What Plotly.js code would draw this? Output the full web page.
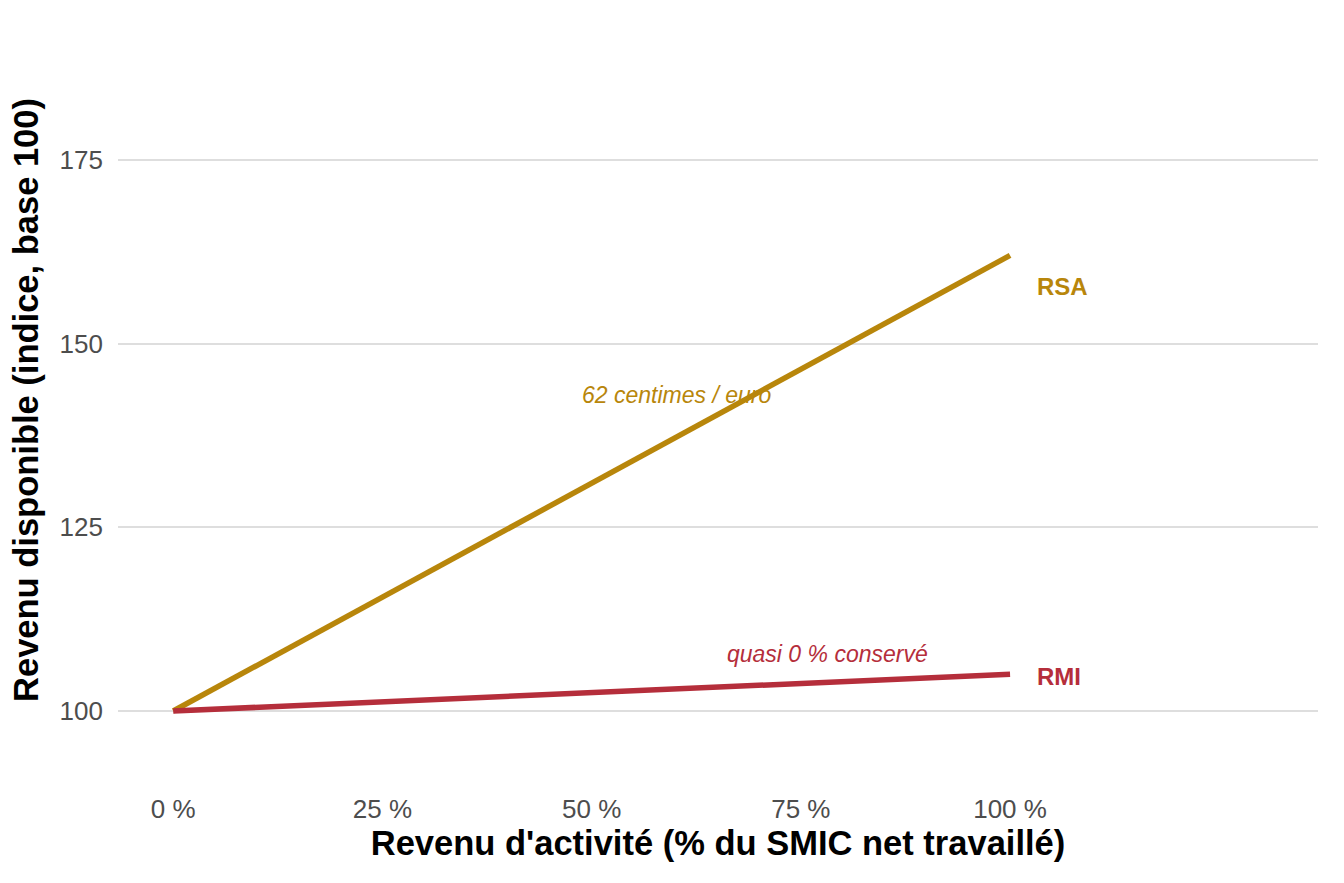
<!DOCTYPE html>
<html>
<head>
<meta charset="utf-8">
<script src="https://cdn.plot.ly/plotly-3.0.1.min.js"></script>
<style>
  html, body { margin: 0; padding: 0; background: #fff; }
  #chart { width: 1344px; height: 883px; }
</style>
</head>
<body>
<div id="chart"></div>
<script>
// revenu d'activité en % du SMIC
const activite = [0, 100];
// revenu disponible, indice base 100
const rsa = [100, 162];
const rmi = [100, 105];

const ticksX = [0, 25, 50, 75, 100];
const labelsX = ['0 %', '25 %', '50 %', '75 %', '100 %'];
const ticksY = [100, 125, 150, 175];

const couleurRSA = '#b8860b';
const couleurRMI = '#b52e3b';

const traces = [
    { x: activite, y: rsa, mode: 'lines', name: 'RSA', line: { color: couleurRSA, width: 5.5 }, hoverinfo: 'skip' },
    { x: activite, y: rmi, mode: 'lines', name: 'RMI', line: { color: couleurRMI, width: 5.5 }, hoverinfo: 'skip' }
];

const police = 'Liberation Sans, Arial, sans-serif';

const layout = {
    width: 1344, height: 883,
    margin: { t: 15, b: 98, l: 118, r: 26 },
    paper_bgcolor: '#fff', plot_bgcolor: '#fff',
    showlegend: false,
    font: { family: police },
    xaxis: {
        range: [-6.6, 136.8],
        tickmode: 'array', tickvals: ticksX, ticktext: labelsX,
        showgrid: false, zeroline: false, showline: false,
        tickfont: { size: 26, color: '#4d4d4d' },
        ticks: '', ticklen: 0, ticklabelstandoff: 6,
        automargin: false,
        title: { text: "Revenu d'activité (% du SMIC net travaillé)", font: { size: 34.5, color: '#000', weight: 'bold' }, standoff: 6 }
    },
    yaxis: {
        range: [89.93, 194.72],
        tickmode: 'array', tickvals: ticksY,
        showgrid: true, gridcolor: '#dedede', gridwidth: 2,
        zeroline: false, showline: false,
        tickfont: { size: 26, color: '#4d4d4d' },
        ticks: '', ticklen: 0, ticklabelstandoff: 14,
        automargin: false,
        title: { text: 'Revenu disponible (indice, base 100)', font: { size: 34.5, color: '#000', weight: 'bold' }, standoff: 10 }
    },
    shapes: [
        { type: 'line', xref: 'paper', x0: 0, x1: 1, yref: 'y', y0: 100, y1: 100,
          line: { color: '#a6a6a6', width: 1.5, dash: 'dot' }, layer: 'between' }
    ],
    annotations: [
        { x: 103, y: 157.8, text: '<b>RSA</b>', showarrow: false, xanchor: 'left', yanchor: 'middle',
          font: { size: 24, color: couleurRSA } },
        { x: 103, y: 104.7, text: '<b>RMI</b>', showarrow: false, xanchor: 'left', yanchor: 'middle',
          font: { size: 24, color: couleurRMI } },
        { x: 60.1, y: 143, text: '<i>62 centimes / euro</i>', showarrow: false, xanchor: 'center', yanchor: 'middle',
          font: { size: 23, color: couleurRSA } },
        { x: 78.2, y: 107.8, text: '<i>quasi 0 % conservé</i>', showarrow: false, xanchor: 'center', yanchor: 'middle',
          font: { size: 23, color: couleurRMI } }
    ]
};

Plotly.newPlot('chart', traces, layout, { displayModeBar: false, staticPlot: true });
</script>
</body>
</html>
